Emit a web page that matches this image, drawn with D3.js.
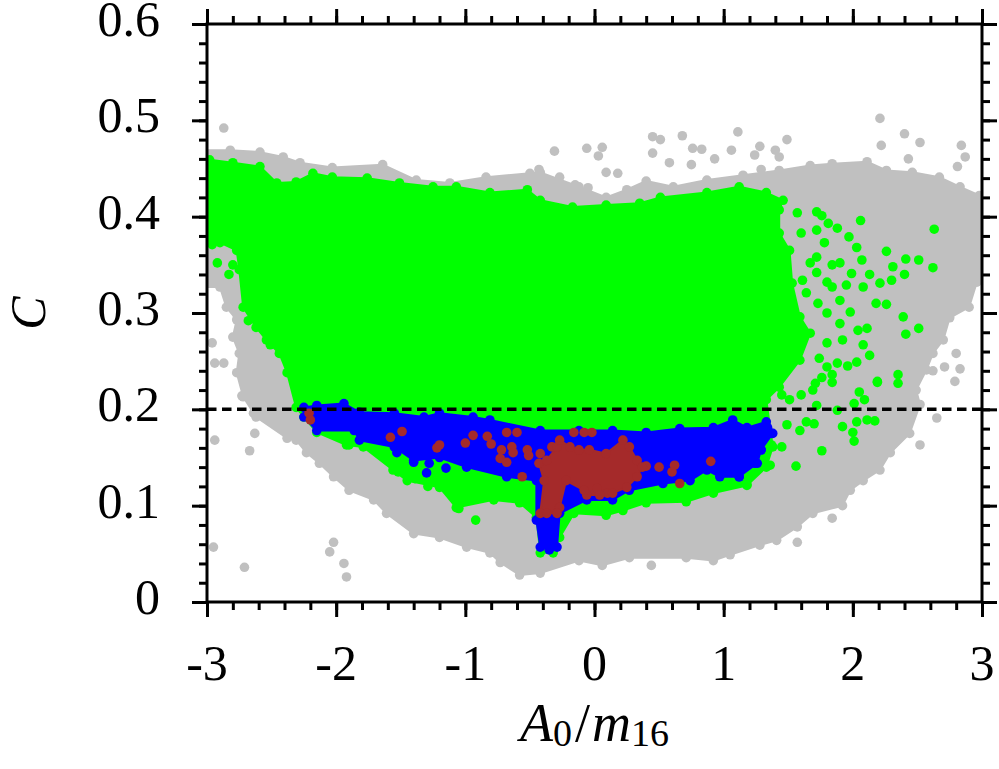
<html>
<head>
    <title>C vs A0/m16</title>
    <script src="https://d3js.org/d3.v7.min.js"></script>
    <style>
        body { margin: 0; background: #fff; }
    </style>
</head>
<body>
    <svg id="scatter" width="999" height="769"></svg>

    <script>
        // [A0/m16, C]
        const xTicks = [-3, -2, -1, 0, 1, 2, 3];
        const yTicks = [0, 0.1, 0.2, 0.3, 0.4, 0.5, 0.6];
        const cutValue = 0.2;

        // dense clouds: outlines of the regions filled with points
        const grayOutline = [
            [-3.06,0.469],[-2.82,0.469],[-2.59,0.467],[-2.41,0.462],[-2.28,0.456],[-2.03,0.451],[-1.64,0.454],
            [-1.38,0.438],[-1.12,0.435],[-0.84,0.441],[-0.50,0.445],[-0.42,0.446],[-0.12,0.431],[0.09,0.420],
            [0.25,0.428],[0.40,0.437],[0.61,0.431],[0.87,0.438],[1.15,0.443],[1.43,0.448],[1.67,0.453],
            [1.84,0.455],[2.11,0.457],[2.26,0.448],[2.46,0.446],[2.67,0.441],[2.83,0.431],[2.98,0.422],
            [3.06,0.422],[3.06,0.339],[2.96,0.332],[2.90,0.306],[2.75,0.295],[2.70,0.272],[2.62,0.258],
            [2.57,0.241],[2.49,0.220],[2.52,0.205],[2.44,0.175],[2.29,0.155],[2.21,0.137],[2.08,0.126],
            [1.98,0.116],[1.92,0.100],[1.69,0.092],[1.57,0.078],[1.41,0.064],[1.28,0.059],[1.05,0.049],
            [0.92,0.043],[0.71,0.046],[0.27,0.046],[0.06,0.038],[-0.12,0.043],[-0.42,0.030],[-0.58,0.028],
            [-0.73,0.041],[-0.81,0.051],[-0.99,0.057],[-1.20,0.067],[-1.40,0.071],[-1.61,0.092],[-1.71,0.106],
            [-1.90,0.116],[-2.02,0.130],[-2.13,0.144],[-2.23,0.155],[-2.31,0.168],[-2.38,0.170],[-2.62,0.192],
            [-2.72,0.213],[-2.77,0.238],[-2.75,0.258],[-2.80,0.275],[-2.77,0.293],[-2.85,0.306],[-2.90,0.327],
            [-3.06,0.327]
        ];
        const greenOutline = [
            [-3.06,0.459],[-2.98,0.459],[-2.80,0.456],[-2.59,0.452],[-2.46,0.435],[-2.31,0.436],[-2.18,0.445],
            [-2.03,0.441],[-1.76,0.440],[-1.51,0.435],[-1.25,0.431],[-1.07,0.431],[-0.81,0.425],[-0.52,0.428],
            [-0.42,0.417],[-0.17,0.410],[0.09,0.412],[0.35,0.414],[0.51,0.420],[0.87,0.425],[1.12,0.431],
            [1.33,0.425],[1.46,0.417],[1.43,0.407],[1.43,0.383],[1.51,0.365],[1.53,0.331],[1.59,0.296],
            [1.67,0.279],[1.59,0.251],[1.43,0.223],[1.33,0.210],[1.38,0.161],[1.33,0.140],[1.18,0.121],
            [0.92,0.113],[0.71,0.104],[0.40,0.103],[0.22,0.095],[0.09,0.090],[-0.16,0.092],[-0.27,0.067],
            [-0.32,0.051],[-0.42,0.051],[-0.45,0.088],[-0.58,0.103],[-0.78,0.106],[-1.07,0.098],[-1.20,0.119],
            [-1.45,0.126],[-1.56,0.137],[-1.79,0.161],[-1.92,0.163],[-2.15,0.176],[-2.25,0.192],[-2.31,0.202],
            [-2.38,0.238],[-2.44,0.258],[-2.54,0.272],[-2.62,0.285],[-2.72,0.306],[-2.75,0.345],[-2.77,0.365],
            [-2.90,0.373],[-3.06,0.376]
        ];
        const blueOutline = [
            [-2.25,0.202],[-2.15,0.204],[-1.94,0.206],[-1.82,0.197],[-1.55,0.196],[-1.32,0.192],[-1.20,0.196],
            [-0.94,0.192],[-0.81,0.189],[-0.42,0.178],[-0.12,0.178],[0.14,0.178],[0.40,0.176],[0.66,0.180],
            [0.92,0.181],[1.07,0.189],[1.18,0.181],[1.33,0.187],[1.38,0.175],[1.29,0.158],[1.26,0.144],
            [1.12,0.130],[0.97,0.130],[0.87,0.137],[0.74,0.126],[0.53,0.123],[0.27,0.116],[0.14,0.106],
            [-0.06,0.106],[-0.27,0.092],[-0.29,0.057],[-0.35,0.054],[-0.42,0.057],[-0.45,0.085],[-0.45,0.126],
            [-0.68,0.130],[-0.99,0.140],[-1.20,0.150],[-1.40,0.147],[-1.55,0.161],[-1.82,0.168],[-1.86,0.178],
            [-2.15,0.178],[-2.25,0.192]
        ];
        const brownOutline = [
            [-0.42,0.092],[-0.39,0.126],[-0.43,0.144],[-0.37,0.147],[-0.29,0.161],[-0.27,0.168],[-0.19,0.161],
            [-0.12,0.158],[-0.04,0.158],[0.09,0.154],[0.22,0.168],[0.27,0.161],[0.33,0.147],[0.37,0.140],
            [0.33,0.130],[0.25,0.119],[0.14,0.113],[0.04,0.111],[-0.06,0.111],[-0.08,0.116],[-0.22,0.126],
            [-0.27,0.098],[-0.29,0.092],[-0.37,0.092]
        ];

        // scattered single points outside the dense clouds
        const grayPoints = [
            [-2.87,0.492],[-0.31,0.468],[-0.06,0.471],[0.06,0.472],[0.03,0.463],[-0.43,0.449],[-0.27,0.441],
            [-0.15,0.433],[-0.23,0.429],[-0.05,0.430],[0.09,0.446],[0.18,0.445],[0.45,0.483],[0.45,0.466],
            [0.51,0.480],[0.68,0.484],[0.58,0.456],[0.76,0.471],[0.83,0.470],[0.93,0.460],[0.75,0.454],
            [1.06,0.469],[1.11,0.488],[1.49,0.480],[1.28,0.473],[1.24,0.464],[1.40,0.469],[1.43,0.462],
            [1.29,0.449],[2.21,0.502],[2.40,0.486],[2.52,0.477],[2.22,0.474],[2.43,0.460],[2.84,0.474],
            [2.87,0.462],[2.81,0.452],[2.80,0.258],[2.83,0.242],[2.71,0.244],[2.79,0.229],[2.62,0.240],
            [2.65,0.191],[2.52,0.163],[1.84,0.087],[1.57,0.062],[0.44,0.038],[-2.96,0.269],[-2.94,0.248],
            [-2.87,0.248],[-2.73,0.214],[-2.94,0.168],[-2.67,0.157],[-2.95,0.057],[-2.71,0.036],[-2.02,0.062],
            [-2.05,0.052],[-1.94,0.040],[-1.92,0.026],[-2.64,0.196],[-2.63,0.175]
        ];
        const greenPoints = [
            [-2.80,0.350],[-2.83,0.340],[-2.92,0.352],[-2.96,0.371],[-2.68,0.292],[-2.51,0.267],
            [2.06,0.396],[2.63,0.387],[2.26,0.364],[2.41,0.356],[2.51,0.355],[2.62,0.347],[2.40,0.340],
            [2.31,0.348],[2.08,0.327],[2.18,0.310],[2.26,0.309],[2.39,0.296],[2.51,0.284],[2.41,0.278],
            [2.35,0.236],[2.35,0.227],[2.19,0.229],[2.04,0.282],[2.11,0.284],[1.98,0.301],[2.08,0.267],
            [2.13,0.256],[2.03,0.249],[1.96,0.245],[1.88,0.248],[1.84,0.236],[1.80,0.244],[1.76,0.233],
            [1.71,0.227],[2.05,0.218],[1.90,0.289],[1.92,0.272],[1.80,0.269],[1.74,0.253],[1.88,0.388],
            [1.97,0.379],[2.03,0.368],[2.07,0.355],[2.13,0.340],[2.21,0.331],[2.30,0.334],[1.99,0.341],
            [1.90,0.352],[1.84,0.350],[1.81,0.393],[1.72,0.405],[1.76,0.401],[1.57,0.404],[1.60,0.383],
            [1.72,0.386],[1.78,0.373],[1.72,0.358],[1.67,0.352],[1.72,0.342],[1.80,0.332],[1.84,0.327],
            [1.95,0.329],[1.90,0.313],[1.80,0.300],[1.73,0.310],[1.64,0.321],[1.61,0.334],
            [1.45,0.215],[1.51,0.210],[1.69,0.220],[1.60,0.215],[1.72,0.204],[1.84,0.228],[2.19,0.228],
            [2.09,0.210],[2.01,0.206],[1.88,0.199],[1.49,0.184],[1.59,0.178],[1.64,0.187],[1.70,0.185],
            [1.92,0.182],[2.00,0.176],[2.03,0.187],[2.11,0.189],[2.17,0.188],[2.01,0.167],[1.76,0.157],
            [1.56,0.141],[1.36,0.142],[1.18,0.122],[1.10,0.126],[1.45,0.161],[1.37,0.163],
            [-1.90,0.163],[-1.05,0.097],[-0.92,0.085],[-1.52,0.135],[-1.39,0.128],[-1.29,0.120]
        ];
        const bluePoints = [
            [-1.40,0.145],[-1.28,0.144],[-1.30,0.134],[-1.15,0.139],[-1.53,0.155],[1.12,0.139],[1.12,0.130],
            [1.24,0.144],[1.29,0.158],[1.34,0.181],[1.37,0.175]
        ];
        const brownPoints = [
            [-2.21,0.196],[-2.20,0.189],[-1.49,0.177],[-1.58,0.171],[-1.22,0.160],[-1.20,0.163],[-0.94,0.173],
            [-0.83,0.172],[-0.80,0.164],[-1.00,0.165],[-0.68,0.176],[-0.60,0.176],[-0.72,0.158],[-0.64,0.161],
            [-0.63,0.155],[-0.73,0.149],[-0.68,0.145],[-0.52,0.158],[-0.51,0.152],[-0.42,0.154],[-0.33,0.161],
            [-0.56,0.130],[-0.16,0.176],[-0.08,0.176],[-0.02,0.176],[0.02,0.118],[0.40,0.141],[0.50,0.140],
            [0.62,0.142],[0.60,0.135],[0.66,0.123],[0.90,0.146],[0.10,0.113]
        ];

        const layers = [
            { outline: grayOutline,  points: grayPoints,  color: '#c0c0c0' },
            { outline: greenOutline, points: greenPoints, color: '#00ff00' },
            { outline: blueOutline,  points: bluePoints,  color: '#0000ff' },
            { outline: brownOutline, points: brownPoints, color: '#a52a2a' }
        ];

        const svg = d3.select('svg#scatter');
        const margins = { top: 24, right: 17, bottom: 167, left: 207 };
        const chartWidth = svg.attr('width') - margins.left - margins.right;
        const chartHeight = svg.attr('height') - margins.top - margins.bottom;
        const serif = '"Liberation Serif", "Times New Roman", serif';

        const chartArea = svg.append('g')
                             .attr('transform', `translate(${margins.left}, ${margins.top})`);

        const xScale = d3.scaleLinear().domain([-3, 3]).range([0, chartWidth]);
        const yScale = d3.scaleLinear().domain([0, 0.6]).range([chartHeight, 0]);

        chartArea.append('clipPath')
                 .attr('id', 'plotclip')
                 .append('rect')
                 .attr('width', chartWidth)
                 .attr('height', chartHeight);

        const marks = chartArea.append('g').attr('clip-path', 'url(#plotclip)');
        const outlineLine = d3.line()
                              .x(d => xScale(d[0]))
                              .y(d => yScale(d[1]))
                              .curve(d3.curveLinearClosed);

        layers.forEach(layer => {
            marks.append('path')
                 .datum(layer.outline)
                 .attr('d', outlineLine)
                 .attr('fill', layer.color)
                 .attr('stroke', layer.color)
                 .attr('stroke-width', 2)
                 .attr('stroke-linejoin', 'round');

            // the outline vertices are cloud points too: gives the edge its dotted look
            marks.append('g')
                 .selectAll('circle')
                 .data(layer.points.concat(layer.outline))
                 .enter()
                 .append('circle')
                 .attr('cx', d => xScale(d[0]))
                 .attr('cy', d => yScale(d[1]))
                 .attr('r', 4.8)
                 .attr('fill', layer.color);
        });

        // cut line C = 0.2
        chartArea.append('line')
                 .attr('x1', xScale(-3))
                 .attr('x2', xScale(3))
                 .attr('y1', yScale(cutValue))
                 .attr('y2', yScale(cutValue))
                 .attr('stroke', 'black')
                 .attr('stroke-width', 3.5)
                 .attr('stroke-dasharray', '9.5,5.5');

        // frame and ticks on all four sides, pointing outwards
        const xMinor = d3.range(-3, 3.001, 0.2).map(v => +v.toFixed(2));
        const yMinor = d3.range(0, 0.6001, 0.02).map(v => +v.toFixed(3));

        function tickAxis(axis, values, size) {
            return axis.tickValues(values).tickSize(size).tickSizeOuter(0).tickFormat('');
        }

        const axisSpecs = [
            { make: () => d3.axisBottom(xScale), pos: `translate(0, ${chartHeight})`, major: xTicks, minor: xMinor },
            { make: () => d3.axisTop(xScale),    pos: 'translate(0, 0)',              major: xTicks, minor: xMinor },
            { make: () => d3.axisLeft(yScale),   pos: 'translate(0, 0)',              major: yTicks, minor: yMinor },
            { make: () => d3.axisRight(yScale),  pos: `translate(${chartWidth}, 0)`,  major: yTicks, minor: yMinor }
        ];

        axisSpecs.forEach(spec => {
            [[spec.minor, 8], [spec.major, 15]].forEach(([vals, size]) => {
                const g = chartArea.append('g')
                                   .attr('transform', spec.pos)
                                   .call(tickAxis(spec.make(), vals, size));
                g.select('.domain').remove();
                g.selectAll('line').attr('stroke', 'black').attr('stroke-width', 3);
                g.selectAll('text').remove();
            });
        });

        chartArea.append('rect')
                 .attr('width', chartWidth)
                 .attr('height', chartHeight)
                 .attr('fill', 'none')
                 .attr('stroke', 'black')
                 .attr('stroke-width', 3);

        // tick labels
        chartArea.append('g')
                 .selectAll('text')
                 .data(xTicks)
                 .enter()
                 .append('text')
                 .attr('x', d => xScale(d))
                 .attr('y', chartHeight + 78)
                 .attr('text-anchor', 'middle')
                 .style('font-family', serif)
                 .style('font-size', '50px')
                 .text(d => d < 0 ? '-' + Math.abs(d) : d);

        chartArea.append('g')
                 .selectAll('text')
                 .data(yTicks)
                 .enter()
                 .append('text')
                 .attr('x', -47)
                 .attr('y', d => yScale(d) + 12)
                 .attr('text-anchor', 'end')
                 .style('font-family', serif)
                 .style('font-size', '50px')
                 .text(d => d === 0 ? '0' : d.toFixed(1));

        // axis titles
        const xTitle = chartArea.append('text')
                                .attr('x', chartWidth / 2)
                                .attr('y', chartHeight + 139)
                                .attr('text-anchor', 'middle')
                                .style('font-family', serif)
                                .style('font-size', '54px');
        xTitle.append('tspan').style('font-style', 'italic').text('A');
        xTitle.append('tspan').attr('dy', 5).style('font-size', '38px').text('0');
        xTitle.append('tspan').attr('dy', -5).attr('dx', 3).text('/');
        xTitle.append('tspan').attr('dx', 2).style('font-style', 'italic').text('m');
        xTitle.append('tspan').attr('dy', 5).style('font-size', '38px').text('16');

        chartArea.append('text')
                 .attr('transform', `translate(${45 - margins.left}, ${chartHeight / 2}) rotate(-90)`)
                 .attr('text-anchor', 'middle')
                 .style('font-family', serif)
                 .style('font-style', 'italic')
                 .style('font-size', '50px')
                 .text('C');
    </script>
</body>
</html>
